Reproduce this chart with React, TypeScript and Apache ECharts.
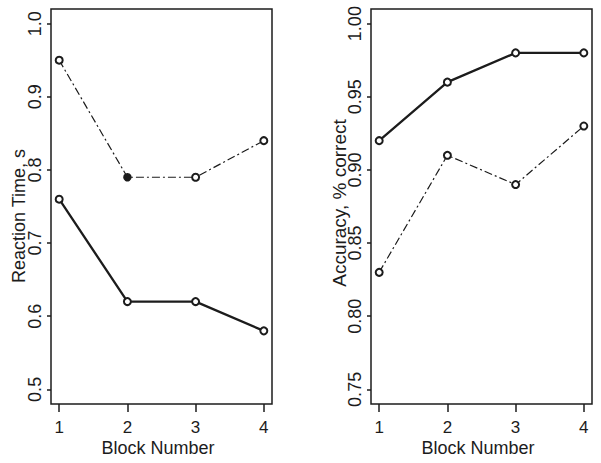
import React, { useEffect, useRef } from "react";
import * as echarts from "echarts";

const blocks = [1, 2, 3, 4];
const rtSolid = [0.76, 0.62, 0.62, 0.58];
const rtDashed = [0.95, 0.79, 0.79, 0.84];
const accSolid = [0.92, 0.96, 0.98, 0.98];
const accDashed = [0.83, 0.91, 0.89, 0.93];
const rtTicks = [0.5, 0.6, 0.7, 0.8, 0.9, 1.0];
const accTicks = [0.75, 0.8, 0.85, 0.9, 0.95, 1.0];
const xTitle = "Block Number";
const rtTitle = "Reaction Time, s";
const accTitle = "Accuracy, % correct";

const FONT = "'Liberation Sans', Arial, Helvetica, sans-serif";
const INK = "#1c1c1c";

export default function App() {
  const ref = useRef<HTMLDivElement>(null);
  useEffect(() => {
    if (!ref.current) return;
    const chart = echarts.init(ref.current, undefined, { renderer: "svg" });
    const pair = (ys: number[]) => blocks.map((b, i) => [b, ys[i]]);
    const xAxisBase = (gridIndex: number) => ({
      type: "value" as const,
      gridIndex,
      min: 0.88,
      max: 4.12,
      splitLine: { show: false },
      axisLine: { show: false },
      axisTick: { show: true, length: 8, customValues: blocks, lineStyle: { color: INK, width: 1.5 } },
      axisLabel: {
        customValues: blocks,
        color: INK,
        fontFamily: FONT,
        fontSize: 17,
        margin: 15,
        formatter: (v: number) => String(v),
      },
    });
    const yAxisBase = (gridIndex: number, min: number, max: number, ticks: number[], dec: number) => ({
      type: "value" as const,
      gridIndex,
      min,
      max,
      splitLine: { show: false },
      axisLine: { show: false },
      axisTick: { show: true, length: 4, customValues: ticks, lineStyle: { color: INK, width: 1.5 } },
      axisLabel: {
        customValues: ticks,
        rotate: 90,
        color: INK,
        fontFamily: FONT,
        fontSize: 18,
        margin: 7,
        formatter: (v: number) => v.toFixed(dec),
      },
    });
    const solid = (xi: number, ys: number[]) => ({
      type: "line" as const,
      xAxisIndex: xi,
      yAxisIndex: xi,
      data: pair(ys),
      symbol: "emptyCircle",
      symbolSize: 7,
      showAllSymbol: true,
      lineStyle: { color: INK, width: 2.3 },
      itemStyle: { color: INK, borderColor: INK, borderWidth: 1.8 },
    });
    const dashed = (xi: number, ys: number[], filledIdx: number) => ({
      type: "line" as const,
      xAxisIndex: xi,
      yAxisIndex: xi,
      data: pair(ys).map((p, i) =>
        i === filledIdx ? { value: p, symbol: "circle" } : { value: p }
      ),
      symbol: "emptyCircle",
      symbolSize: 7,
      showAllSymbol: true,
      lineStyle: { color: INK, width: 1.2, type: [8, 3, 2, 3] },
      itemStyle: { color: INK, borderColor: INK, borderWidth: 1.5 },
    });
    const titleText = (text: string, x: number, y: number, rotation: number, size: number) => ({
      type: "text" as const,
      x,
      y,
      rotation,
      style: {
        text,
        fill: INK,
        font: `${size}px ${FONT}`,
        align: "center",
        verticalAlign: "middle",
      },
    });
    chart.setOption({
      animation: false,
      backgroundColor: "#fff",
      grid: [
        { left: 51, top: 9, width: 221, height: 395, show: true, borderColor: INK, borderWidth: 1.5, backgroundColor: "transparent" },
        { left: 371, top: 9, width: 221, height: 395, show: true, borderColor: INK, borderWidth: 1.5, backgroundColor: "transparent" },
      ],
      xAxis: [xAxisBase(0), xAxisBase(1)],
      yAxis: [yAxisBase(0, 0.48, 1.02, rtTicks, 1), yAxisBase(1, 0.74, 1.01, accTicks, 2)],
      series: [
        dashed(0, rtDashed, 1),
        solid(0, rtSolid),
        dashed(1, accDashed, -1),
        solid(1, accSolid),
      ],
      graphic: [
        titleText(xTitle, 158, 448, 0, 18),
        titleText(xTitle, 478, 448, 0, 18),
        titleText(rtTitle, 19, 216, Math.PI / 2, 18),
        titleText(accTitle, 339, 203, Math.PI / 2, 19),
      ],
    });
    return () => chart.dispose();
  }, []);
  return (
    <div
      ref={ref}
      style={{ position: "fixed", left: 0, top: 0, width: 601, height: 463, background: "#fff" }}
    />
  );
}
